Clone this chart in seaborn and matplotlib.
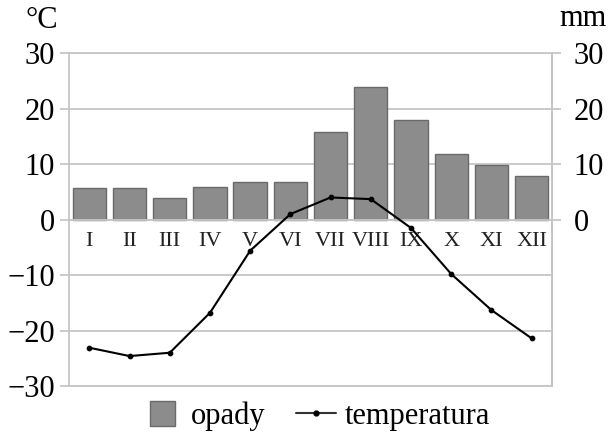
"""
Klimatogram: opady (słupki) i temperatura (linia)
"""
import matplotlib
matplotlib.use("Agg")
import matplotlib.pyplot as plt
from matplotlib.lines import Line2D
import seaborn as sns

sns.set_style("white")
plt.rcParams["font.family"] = ["Liberation Serif", "DejaVu Serif"]
plt.rcParams["axes.unicode_minus"] = True
plt.rcParams["text.color"] = "black"
plt.rcParams["xtick.labelcolor"] = "black"
plt.rcParams["ytick.labelcolor"] = "black"

# ========== dane ==========
months = ["I", "II", "III", "IV", "V", "VI", "VII", "VIII", "IX", "X", "XI", "XII"]
opady = [5.7, 5.7, 3.9, 5.8, 6.8, 6.8, 15.8, 23.9, 17.9, 11.9, 9.9, 7.8]
temperatura = [-23.1, -24.6, -24.0, -16.8, -5.6, 1.0, 4.0, 3.7, -1.5, -9.8, -16.3, -21.4]
left_ticks = [-30, -20, -10, 0, 10, 20, 30]
right_ticks = [0, 10, 20, 30]

GRID = "#c6c6c6"
BAR = "#8c8c8c"
BAR_EDGE = "#6a6a6a"

fig = plt.figure(figsize=(6.13, 4.41), dpi=100)
ax = fig.add_axes([0.113, 0.1247, 0.787, 0.7545])

# ========== słupki + linia ==========
sns.barplot(x=months, y=opady, color=BAR, edgecolor=BAR_EDGE, linewidth=1,
            width=0.83, saturation=1, ax=ax, zorder=2)
sns.pointplot(x=months, y=temperatura, color="black", markers="o", markersize=3.0,
              linewidth=1.5, errorbar=None, ax=ax)
for ln in ax.lines:
    ln.set_zorder(4)

ax.set_ylim(-30, 30)
ax.set_xlim(-0.5, 11.5)
ax.set_axisbelow(True)
ax.set_yticks(left_ticks)
ax.yaxis.grid(True, color=GRID, linewidth=1.3)
ax.tick_params(axis="y", length=6.7, width=1.3, color=GRID, pad=3.5, labelsize=22)

# oś X przesunięta do zera, etykiety miesięcy pod linią 0
ax.spines["bottom"].set_position(("data", 0))
ax.spines["bottom"].set_color(GRID)
ax.spines["bottom"].set_linewidth(1.3)
ax.set_xticks(range(len(months)))
ax.set_xticklabels(months)
ax.set_xticks([i + 0.5 for i in range(len(months) - 1)], minor=True)
ax.tick_params(axis="x", which="major", length=0, pad=9, labelsize=16, labelcolor="#222222")
ax.tick_params(axis="x", which="minor", length=4, width=1, color=GRID, direction="out")
ax.set_xlabel("")
ax.set_ylabel("")

for side in ["left", "right", "top"]:
    ax.spines[side].set_color(GRID)
    ax.spines[side].set_linewidth(1.3)
ax.axhline(-30, color=GRID, linewidth=1.3, clip_on=False, zorder=1)

# prawa oś (mm)
ax2 = ax.twinx()
ax2.set_ylim(-30, 30)
ax2.set_yticks(right_ticks)
ax2.tick_params(axis="y", length=6.7, width=1.3, color=GRID, pad=9, labelsize=22)
for side in ["left", "top", "bottom"]:
    ax2.spines[side].set_visible(False)
ax2.spines["right"].set_color(GRID)
ax2.spines["right"].set_linewidth(1.3)

# jednostki
fig.text(42 / 613, 1 - 21 / 441, "°C", ha="center", va="center", fontsize=22)
fig.text(583 / 613, 1 - 19 / 441, "mm", ha="center", va="center", fontsize=22)

# legenda
handles = [
    Line2D([], [], linestyle="none", marker="s", markersize=18,
           markerfacecolor=BAR, markeredgecolor=BAR_EDGE),
    Line2D([], [], color="#333333", linewidth=1.5, marker="o", markersize=3.5,
           markerfacecolor="black", markeredgecolor="black"),
]
fig.legend(handles, ["opady", "temperatura"], loc="center",
           bbox_to_anchor=(316 / 613, 25 / 441), ncol=2, frameon=False,
           fontsize=22, handlelength=1.3, handletextpad=0.3, columnspacing=1.0,
           borderpad=0)

fig.savefig("out.png", dpi=100)
